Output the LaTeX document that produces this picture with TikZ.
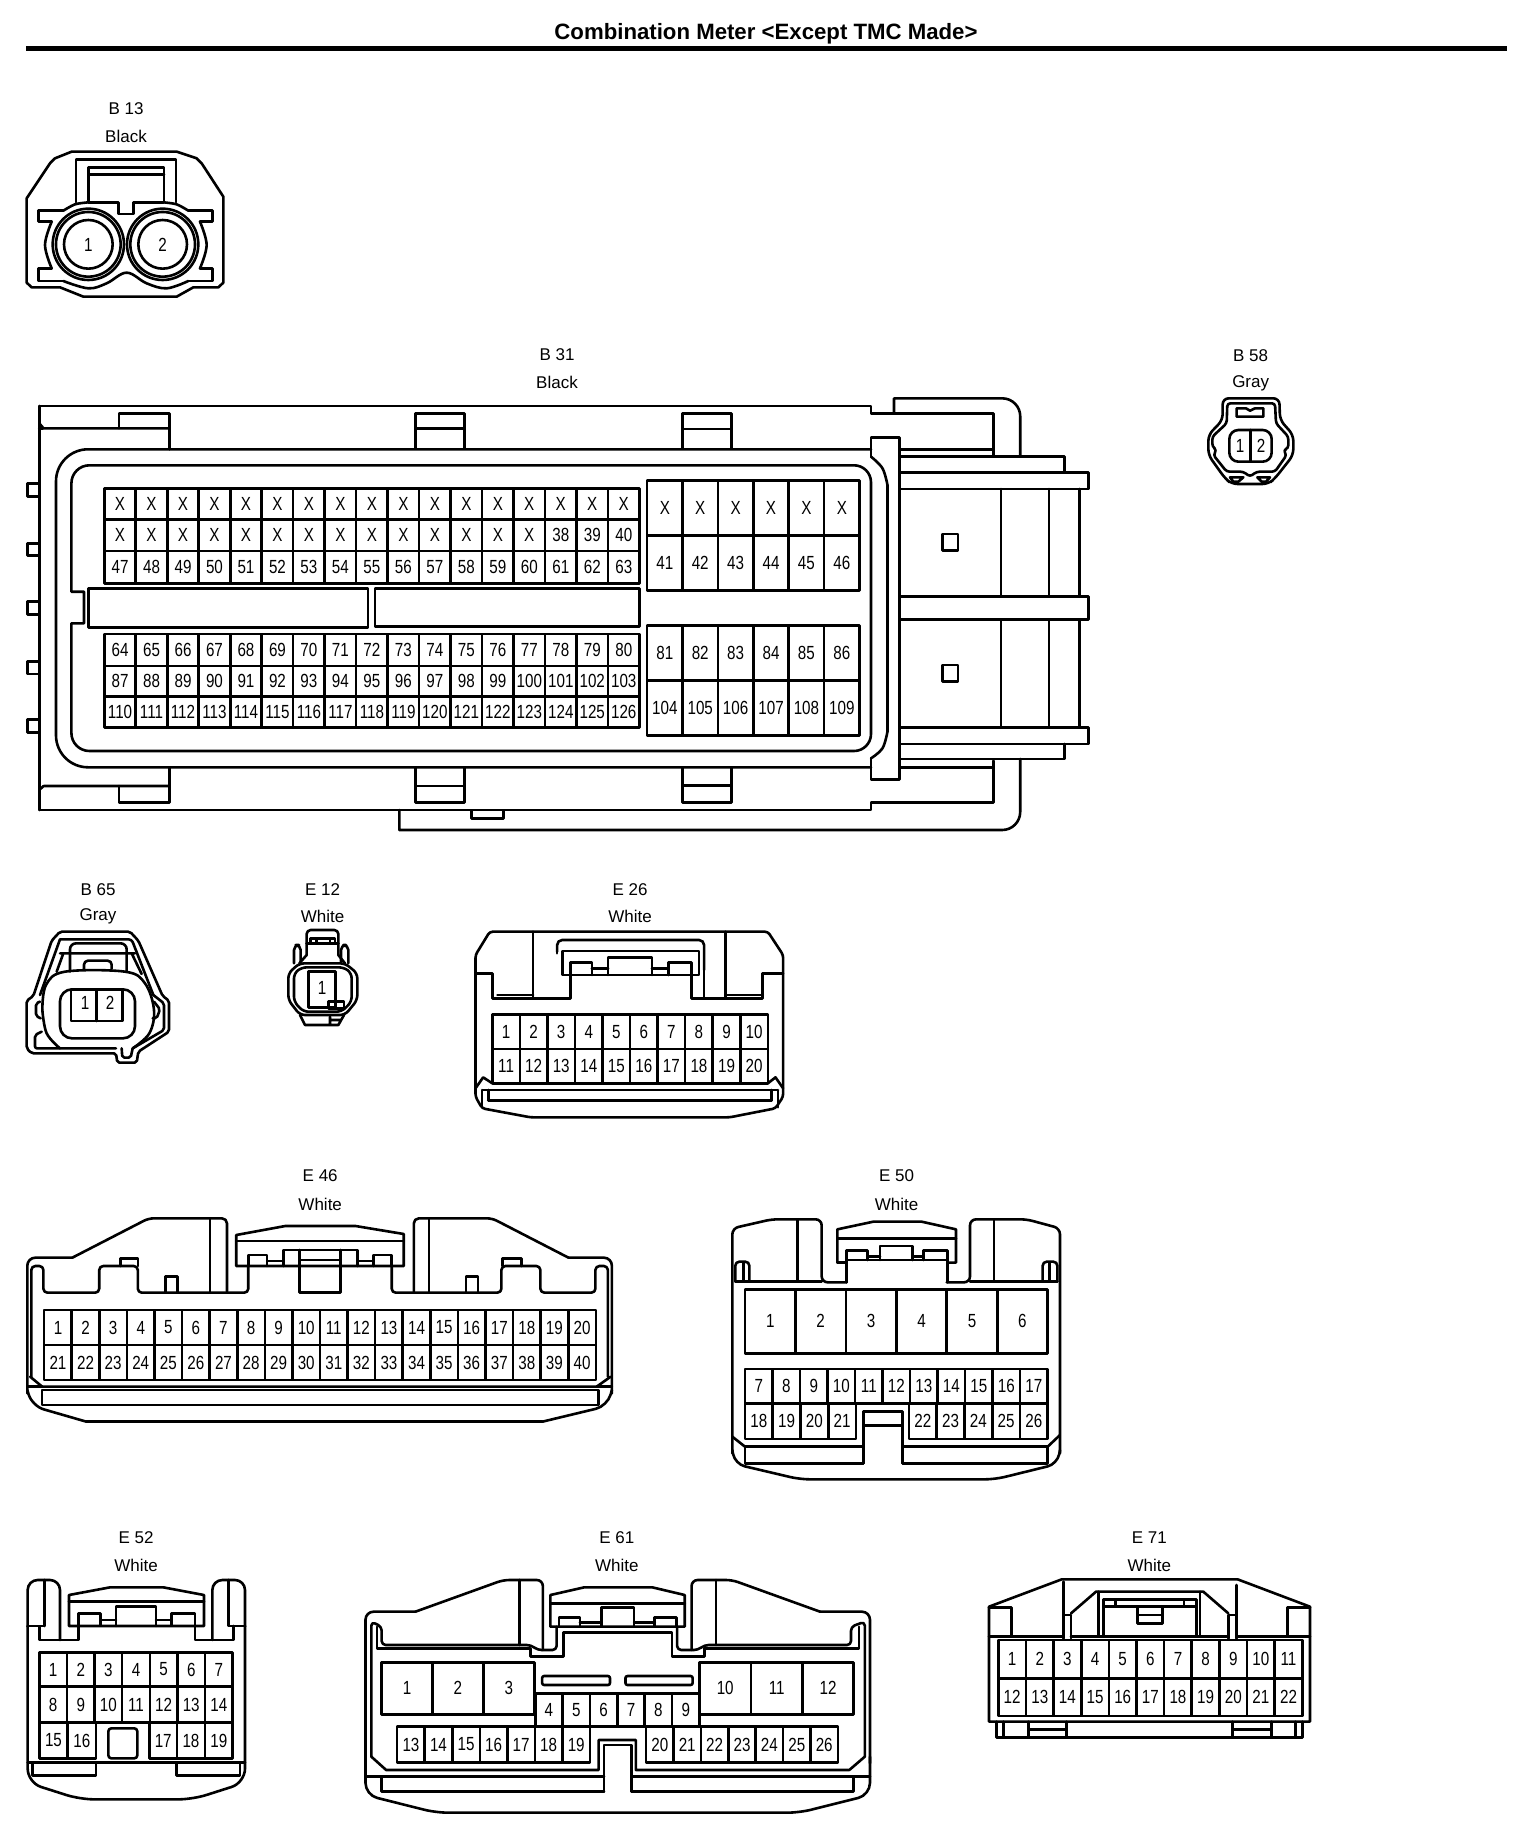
\documentclass[tikz,border=0pt]{standalone}
\usepackage{fontspec}
\setmainfont{Liberation Sans}
\newfontfamily\pinfont[FakeStretch=0.8]{Liberation Sans}
\newcounter{pinno}
\tikzset{
  ln/.style={line width=2.6pt,line join=round,line cap=round},
  hdr/.style={inner sep=0pt,font=\fontsize{17}{19}\selectfont},
  pintext/.style={inner sep=0pt,font=\pinfont\fontsize{19}{21}\selectfont},
  zm/.style n args={3}{shift={(#1,#2)},x=#3,y=-0.33333pt}
}
\newcommand\pinrow[6]{%
  \foreach \pintxt [count=\ii from 0] in {#6} {
    \pgfmathsetmacro\xa{#1+(\ii/#5)*(#2-(#1))}
    \pgfmathsetmacro\xb{#1+((\ii+1)/#5)*(#2-(#1))}
    \draw[ln] (\xa,#3) rectangle (\xb,#4);
    \stepcounter{pinno}
    \node[pintext] (p\thepinno) at ({(\xa+\xb)/2},{(#3+#4)/2}) {\pintxt};
  }}
\newcommand\onepin[3]{\stepcounter{pinno}\node[pintext] (p\thepinno) at (#1,#2) {#3};}
\begin{document}
\begin{tikzpicture}[x=1pt,y=-1pt]
\useasboundingbox (0,0) rectangle (1536,1844);
\node[inner sep=0pt,font=\bfseries\fontsize{22.2}{24}\selectfont] (title) at (766,33.5) {Combination Meter <Except TMC Made>};
\draw[line width=5pt] (26,48.5) -- (1507,48.5);

% ---------- B 13
\begin{scope}[zm={0}{0}{0.33333pt}]
\node[hdr] (b13a) at (378,325) {B 13};
\node[hdr] (b13b) at (378,408) {Black};
\draw[ln] (80,595) -- (150,490) -- (165,475) -- (215,455) -- (530,455) -- (590,475) -- (605,490) -- (670,590) -- (670,848) -- (655,862) -- (580,862) -- (530,890) -- (250,890) -- (180,862) -- (95,862) -- (80,848) -- cycle;
\draw[ln] (228,607) -- (228,478) -- (528,478) -- (528,607);
\draw[ln] (265,607) -- (265,502) -- (492,502) -- (492,607) (265,524) -- (492,524);
\draw[ln] plot[smooth,tension=.5] coordinates {(190,632) (225,613) (265,607)};
\draw[ln] plot[smooth,tension=.5] coordinates {(490,607) (530,613) (565,632)};
\draw[ln] (115,632) -- (190,632) (265,607) -- (355,607) -- (355,642) -- (400,642) -- (400,607) -- (490,607) (565,632) -- (637,632) -- (637,665) -- (600,665);
\draw[ln] plot[smooth,tension=.6] coordinates {(600,665) (620,735) (600,805)};
\draw[ln] (600,805) -- (637,805) -- (637,843) -- (565,843);
\draw[ln] plot[smooth,tension=.6] coordinates {(565,843) (500,865) (440,850) (380,818) (320,850) (265,865) (190,843)};
\draw[ln] (190,843) -- (115,843) -- (115,805) -- (155,805);
\draw[ln] plot[smooth,tension=.6] coordinates {(155,805) (135,735) (155,665)};
\draw[ln] (155,665) -- (115,665) -- (115,632);
\foreach \cx in {265,488} {
  \draw[ln] (\cx,733) circle [radius=73];
  \draw[ln] (\cx,733) circle [radius=97];
  \draw[ln] (\cx,733) circle [radius=107];
}
\onepin{265}{735}{1}
\onepin{488}{735}{2}
\end{scope}

% ---------- B 31, common outlines
\node[hdr] (b31a) at (557,355) {B 31};
\node[hdr] (b31b) at (557,382) {Black};
\draw[ln] (39.3,406) -- (871,406) -- (871,413.3) -- (993.5,413.3) -- (993.5,455);
\draw[ln] (39.3,810) -- (871,810) -- (871,802.3) -- (993.5,802.3) -- (993.5,760.7);
\draw[ln] (39.3,406) -- (39.3,810);
\draw[ln,rounded corners=32pt] (871,449.3) -- (56,449.3) -- (56,767.3) -- (871,767.3);
\draw[ln] (71.4,591.7) [rounded corners=18pt] -- (71.4,465.3) [rounded corners=17pt] -- (871,465.3) -- (871,751) [rounded corners=18pt] -- (71.4,751) [sharp corners] -- (71.4,623.3) -- (84,623.3) -- (84,591.7) -- cycle;
\draw[ln] (399.3,810) -- (399.3,830) [rounded corners=18pt] -- (1020.2,830) [sharp corners] -- (1020.2,759);
\draw[ln] (375,588.3) rectangle (639.5,626.7);
\pinrow{104.3}{639.5}{488.3}{519.3}{17}{X,X,X,X,X,X,X,X,X,X,X,X,X,X,X,X,X}
\pinrow{104.3}{639.5}{519.3}{551}{17}{X,X,X,X,X,X,X,X,X,X,X,X,X,X,38,39,40}
\pinrow{104.3}{639.5}{551}{583.3}{17}{47,...,63}
\pinrow{104.3}{639.5}{634}{666}{17}{64,...,80}
\pinrow{104.3}{639.5}{666}{696.7}{17}{87,...,103}
\pinrow{104.3}{639.5}{696.7}{727.3}{17}{110,...,126}

\begin{scope}[zm={0}{380}{0.35714pt}]
\draw[ln] (110,130) -- (122,145) -- (475,145);
\draw[ln] (110,145) -- (120,145);
\draw[ln] (333,145) -- (333,100) -- (475,100) -- (475,208);
\draw[ln] (1163,205) -- (1163,100) -- (1300,100) -- (1300,205) (1163,145) -- (1300,145);
\draw[ln] (122,1218) -- (475,1218) (110,1230) -- (122,1218);
\draw[ln] (475,1165) -- (475,1267) -- (333,1267) -- (333,1218);
\draw[ln] (1163,1165) -- (1163,1267) -- (1300,1267) -- (1300,1165) (1163,1218) -- (1300,1218);
\draw[ln] (1320,1292) -- (1320,1315) -- (1410,1315) -- (1410,1292);
\foreach \ya/\yb in {310/350,490/527,665/703,845/882,1018/1058}
  \draw[ln] (110,\ya) -- (77,\ya) -- (77,\yb) -- (110,\yb);
\draw[ln] (247,625) rectangle (1030,743);
\end{scope}

\begin{scope}[zm={540}{340}{0.38266pt}]
\draw[ln] (372,325) -- (372,220) -- (500,220) -- (500,325) (372,267) -- (500,267);
\draw[ln] (372,1285) -- (372,1387) -- (500,1387) -- (500,1285) (372,1337) -- (500,1337);
\draw[ln] (925,220) -- (925,175) [rounded corners=18pt] -- (1255,175) [sharp corners] -- (1255,350);
\draw[ln] (865,350) -- (865,293) -- (940,293) -- (940,1318) -- (865,1318) -- (865,1255);
\draw[ln] plot[smooth,tension=.6] coordinates {(865,350) (895,385) (908,435)};
\draw[ln] plot[smooth,tension=.6] coordinates {(908,1175) (895,1225) (865,1255)};
\draw[ln] (908,435) -- (908,1175);
\draw[ln] (940,328) -- (1185,328) (940,1282) -- (1185,1282);
\draw[ln] (940,350) -- (1370,350) -- (1370,397) -- (1433,397) -- (1433,447) -- (940,447) (940,397) -- (1370,397);
\draw[ln] (940,770) -- (1433,770) -- (1433,838) -- (940,838);
\draw[ln] (940,1163) -- (1433,1163) -- (1433,1212) -- (940,1212) (1370,1212) -- (1370,1257) -- (940,1257);
\foreach \vx in {1205,1330,1410} \draw[ln] (\vx,447) -- (\vx,770) (\vx,838) -- (\vx,1163);
\draw[ln] (1052,582) rectangle (1092,632);
\draw[ln] (1052,975) rectangle (1092,1025);
\pinrow{280}{835}{422}{587}{6}{X,X,X,X,X,X}
\pinrow{280}{835}{587}{752}{6}{41,...,46}
\pinrow{280}{835}{857}{1022}{6}{81,...,86}
\pinrow{280}{835}{1022}{1187}{6}{104,...,109}
\end{scope}

% ---------- B 58
\begin{scope}[zm={1180}{340}{0.33333pt}]
\node[hdr] (b58a) at (212,47) {B 58};
\node[hdr] (b58b) at (212,130) {Gray};
\draw[ln,rounded corners=6pt] (128,240) -- (128,175) -- (298,175) -- (300,240) -- (340,285) -- (340,345) -- (285,415) -- (265,432) -- (155,432) -- (135,415) -- (85,345) -- (85,285) -- cycle;
\draw[ln,rounded corners=3pt] (140,250) -- (142,190) -- (285,190) -- (288,250) -- (325,290) -- (325,325) -- (310,330) -- (320,345) -- (285,395) -- (230,395) -- (210,410) -- (190,395) -- (140,395) -- (100,345) -- (110,330) -- (97,320) -- (97,290) -- cycle;
\draw[ln] (170,205) -- (198,205) -- (210,212) -- (225,205) -- (250,205) -- (250,230) -- (170,230) -- cycle;
\draw[ln,rounded corners=9pt] (148,270) rectangle (275,365);
\draw[ln] (212,270) -- (212,365);
\draw[ln] (150,412) -- (190,412) -- (175,425) -- (160,425) -- cycle;
\draw[ln] (232,412) -- (270,412) -- (258,425) -- (245,425) -- cycle;
\onepin{180}{317}{1}
\onepin{243}{317}{2}
\end{scope}

% ---------- B 65
\begin{scope}[zm={10}{920}{0.33333pt}]
\draw[ln,rounded corners=2pt] (125,62) -- (150,35) -- (360,35) -- (385,62) -- (458,228) -- (477,242) -- (477,335) -- (385,395) -- (380,428) -- (322,428) -- (318,400) -- (65,400) -- (50,385) -- (50,242) -- (70,228) -- cycle;
\draw[ln,rounded corners=3pt] (150,58) -- (365,58) -- (430,225);
\draw[ln,rounded corners=3pt] (150,58) -- (90,225);
\draw[ln,rounded corners=2pt] (90,245) -- (78,250) -- (78,288) -- (92,295);
\draw[ln,rounded corners=2pt] (432,245) -- (450,268) -- (440,295) -- (428,295);
\draw[ln,rounded corners=2pt] (95,335) -- (75,345) -- (75,385) -- (318,385);
\draw[ln,rounded corners=2pt] (335,385) -- (337,413) -- (362,413) -- (368,385);
\draw[ln,rounded corners=2pt] (368,385) -- (462,330) -- (462,250) -- (430,225);
\draw[ln] plot[smooth,tension=.6] coordinates {(97,270) (108,195) (165,155) (345,155) (405,190) (432,270) (418,340) (368,385)};
\draw[ln] plot[smooth,tension=.6] coordinates {(97,270) (110,340) (150,385)};
\draw[ln,rounded corners=6pt] (180,155) -- (180,70) -- (350,70) -- (350,155);
\draw[ln] (150,100) -- (375,100) (160,100) -- (140,155) (365,100) -- (395,162);
\draw[ln,rounded corners=4pt] (222,147) -- (222,122) -- (305,122) -- (305,147);
\draw[ln,rounded corners=12pt] (150,208) -- (375,208) -- (375,355) -- (150,355) -- cycle;
\draw[ln] (183,208) rectangle (338,303) (260,208) -- (260,303);
\onepin{225}{250}{1}
\onepin{300}{250}{2}
\end{scope}

% ---------- E 12
\begin{scope}[zm={270}{920}{0.33333pt}]
\draw[ln,rounded corners=4pt] (110,70) -- (110,30) -- (205,30) -- (205,70);
\draw[ln] (110,70) -- (205,70) (122,70) -- (122,55) -- (195,55) -- (195,70) (140,55) -- (140,70) (180,55) -- (180,70);
\draw[ln] (110,70) -- (110,105) -- (88,130) (205,70) -- (205,105) -- (225,130);
\draw[ln,rounded corners=5pt] (72,130) -- (72,75) -- (92,75) -- (92,125);
\draw[ln,rounded corners=5pt] (213,125) -- (213,75) -- (235,75) -- (235,130);
\draw[ln,rounded corners=5pt] (88,130) -- (55,160) -- (55,240) -- (90,285) -- (225,285) -- (262,240) -- (262,160) -- (225,130) -- cycle;
\draw[ln,rounded corners=5pt] (95,142) -- (72,160) -- (72,245) -- (100,275) -- (215,275) -- (245,245) -- (245,160) -- (222,142) -- cycle;
\draw[ln] (115,155) rectangle (197,262);
\draw[ln] (175,245) rectangle (222,265);
\draw[ln] (90,285) -- (105,315) -- (205,315) -- (222,285) (180,290) -- (180,315) (180,300) -- (212,300);
\onepin{156}{205}{1}
\end{scope}

\node[hdr] (b65a) at (98,889.5) {B 65};
\node[hdr] (b65b) at (98,916.5) {Gray};
\node[hdr] (e12a) at (322.5,889.5) {E 12};
\node[hdr] (e12b) at (322.5,916.5) {White};

% ---------- E 26
\begin{scope}[zm={0}{870}{0.5102pt}]
\node[hdr] (e26a) at (1235,58) {E 26};
\node[hdr] (e26b) at (1235,140) {White};
\draw[ln,rounded corners=3pt] (960,185) -- (1505,185) -- (1535,255) -- (1535,680) -- (1520,715) -- (1430,742) -- (1040,742) -- (945,715) -- (932,680) -- (932,255) -- cycle;
\draw[ln] (932,310) -- (965,310) -- (965,385) -- (1118,385) -- (1118,315) (1355,315) -- (1355,385) -- (1495,385) -- (1495,310) -- (1535,310);
\draw[ln] (975,375) -- (1045,375) (1425,375) -- (1495,375);
\draw[ln] (1045,185) -- (1045,385) (1422,185) -- (1422,385);
\draw[ln,rounded corners=5pt] (1092,245) -- (1092,210) -- (1380,210) -- (1380,300);
\draw[ln] (1380,300) -- (1380,385) (1092,245) -- (1092,250);
\draw[ln] (1103,243) rectangle (1370,315);
\draw[ln] (1118,315) -- (1118,278) -- (1160,278) -- (1160,315);
\draw[ln] (1192,315) -- (1192,262) -- (1278,262) -- (1278,315);
\draw[ln] (1310,315) -- (1310,278) -- (1355,278) -- (1355,315);
\draw[ln] (1160,295) -- (1192,295) (1278,295) -- (1310,295);
\pinrow{965}{1505}{433}{537}{10}{1,...,10}
\pinrow{965}{1505}{537}{640}{10}{11,...,20}
\draw[ln] (932,655) -- (947,622) -- (965,640) (1535,655) -- (1520,622) -- (1505,640);
\draw[ln] (945,660) -- (1525,660) (957,692) -- (1512,692) (945,660) -- (945,712) (957,660) -- (957,692) (1512,660) -- (1512,692) (1525,660) -- (1525,712);
\end{scope}

% ---------- E 46
\begin{scope}[zm={0}{1160}{0.40177pt}]
\node[hdr] (e46a) at (797,47) {E 46};
\node[hdr] (e46b) at (797,133) {White};
\draw[ln,rounded corners=8pt] (68,700) -- (68,293) -- (180,293);
\draw[ln,rounded corners=5pt] (180,293) -- (370,175) -- (565,175) -- (565,395);
\draw[ln,rounded corners=5pt] (1030,395) -- (1030,175) -- (1225,175) -- (1415,293);
\draw[ln,rounded corners=8pt] (1415,293) -- (1523,293) -- (1523,700);
\draw[ln,rounded corners=12pt] (68,690) -- (80,738) -- (215,785);
\draw[ln] (215,785) -- (1350,785);
\draw[ln,rounded corners=12pt] (1350,785) -- (1512,738) -- (1523,690);
\draw[ln,rounded corners=4pt] (78,650) -- (78,318) -- (108,318) -- (108,398) -- (247,398) -- (247,318) -- (343,318) -- (343,398) -- (618,398) -- (618,318);
\draw[ln,rounded corners=4pt] (975,318) -- (975,398) -- (1248,398) -- (1248,318) -- (1345,318) -- (1345,398) -- (1482,398) -- (1482,318) -- (1513,318) -- (1513,650);
\draw[ln] (300,318) -- (300,295) -- (343,295) -- (343,318) (1250,318) -- (1250,295) -- (1298,295) -- (1298,318);
\draw[ln] (412,398) -- (412,350) -- (442,350) -- (442,398) (1160,398) -- (1160,350) -- (1190,350) -- (1190,398);
\draw[ln] (523,175) -- (523,398) (1068,175) -- (1068,398);
\draw[ln] (588,318) -- (588,225) -- (710,198) -- (885,198) -- (1005,222) -- (1005,318) -- cycle;
\draw[ln] (588,243) -- (1005,243);
\draw[ln] (618,318) -- (618,285) -- (665,285) -- (665,318);
\draw[ln] (705,318) -- (705,270) -- (890,270) -- (890,318);
\draw[ln] (930,318) -- (930,285) -- (975,285) -- (975,318);
\draw[ln] (665,303) -- (705,303) (890,303) -- (930,303);
\draw[ln] (745,270) -- (745,398) -- (848,398) -- (848,270) (745,300) -- (848,300);
\pinrow{110}{1483}{450}{555}{20}{1,...,20}
\pinrow{110}{1483}{555}{660}{20}{21,...,40}
\draw[ln] (75,650) -- (105,680) -- (1485,680) -- (1520,650);
\draw[ln] (68,680) -- (105,680) (1485,680) -- (1523,680);
\draw[ln] (105,690) -- (1490,690) -- (1490,735) -- (105,735) -- cycle;
\end{scope}

% ---------- E 50
\begin{scope}[zm={720}{1160}{0.33333pt}]
\node[hdr] (e50a) at (530,47) {E 50};
\node[hdr] (e50b) at (530,133) {White};
\draw[ln,rounded corners=6pt] (37,880) -- (37,205) -- (155,178) -- (305,178) -- (305,367) -- (380,367);
\draw[ln,rounded corners=6pt] (680,367) -- (750,367) -- (750,178) -- (920,178) -- (1020,205) -- (1020,880);
\draw[ln,rounded corners=10pt] (37,870) -- (45,912) -- (240,958) -- (825,958) -- (1012,912) -- (1020,870);
\draw[ln,rounded corners=4pt] (46,365) -- (46,305) -- (88,305) -- (88,365);
\draw[ln,rounded corners=4pt] (968,365) -- (968,305) -- (1012,305) -- (1012,365);
\draw[ln] (46,365) -- (305,365) (750,365) -- (1012,365);
\draw[ln] (70,310) -- (70,365) (988,310) -- (988,365);
\draw[ln] (232,180) -- (232,365) (822,180) -- (822,365);
\draw[ln] (352,308) -- (352,208) -- (460,185) -- (605,185) -- (708,208) -- (708,308) -- (683,308);
\draw[ln] (352,308) -- (380,308) (352,235) -- (708,235);
\draw[ln] (380,367) -- (380,272) -- (443,272) -- (443,300);
\draw[ln] (480,300) -- (480,258) -- (578,258) -- (578,300);
\draw[ln] (610,300) -- (610,272) -- (683,272) -- (683,367);
\draw[ln] (380,300) -- (683,300) (443,290) -- (480,290) (578,290) -- (610,290);
\pinrow{75}{983}{388}{580}{6}{1,...,6}
\pinrow{75}{983}{627}{730}{11}{7,...,17}
\pinrow{75}{408}{730}{837}{4}{18,...,21}
\pinrow{567}{983}{730}{837}{5}{22,...,26}
\draw[ln] (430,910) -- (430,755) -- (548,755) -- (548,910) (430,797) -- (548,797);
\draw[ln] (75,860) -- (430,860) (548,860) -- (983,860);
\draw[ln] (75,860) -- (75,910) -- (430,910) (548,910) -- (983,910) -- (983,860);
\draw[ln] (37,830) -- (75,860) (1020,825) -- (983,860);
\end{scope}

% ---------- E 52
\begin{scope}[zm={0}{1530}{0.33333pt}]
\node[hdr] (e52a) at (408,22) {E 52};
\node[hdr] (e52b) at (408,105) {White};
\draw[ln,rounded corners=10pt] (83,290) -- (83,150) -- (180,150) -- (180,330);
\draw[ln,rounded corners=10pt] (637,330) -- (637,150) -- (735,150) -- (735,290);
\draw[ln] (133,150) -- (133,288) (83,288) -- (133,288) (685,150) -- (685,288) -- (735,288);
\draw[ln] (133,288) -- (118,288) -- (118,330) -- (235,330) -- (235,250) -- (302,250) -- (302,285);
\draw[ln] (700,288) -- (700,330) -- (585,330) -- (585,250) -- (515,250) -- (515,285);
\draw[ln,rounded corners=14pt] (83,288) -- (83,758) -- (240,808) -- (578,808) -- (735,758) -- (735,288);
\draw[ln] (207,288) -- (207,195) -- (330,172) -- (490,172) -- (612,195) -- (612,288) -- cycle;
\draw[ln] (207,215) -- (612,215);
\draw[ln] (348,288) -- (348,230) -- (468,230) -- (468,288);
\draw[ln] (302,270) -- (348,270) (468,270) -- (515,270);
\pinrow{118}{698}{367}{470}{7}{1,...,7}
\pinrow{118}{698}{470}{578}{7}{8,...,14}
\pinrow{118}{288}{578}{685}{2}{15,16}
\pinrow{448}{698}{578}{685}{3}{17,18,19}
\draw[ln,rounded corners=3pt] (325,595) rectangle (412,685);
\draw[ln] (83,697) -- (735,697);
\draw[ln] (97,697) -- (97,737) -- (288,737) -- (288,697);
\draw[ln] (530,697) -- (530,737) -- (720,737) -- (720,697);
\end{scope}

% ---------- E 61
\begin{scope}[zm={350}{1530}{0.34435pt}]
\node[hdr] (e61a) at (775,22) {E 61};
\node[hdr] (e61b) at (775,105) {White};
\draw[ln,rounded corners=8pt] (45,700) -- (45,245) -- (190,245);
\draw[ln,rounded corners=6pt] (190,245) -- (445,150) -- (560,150) -- (560,360);
\draw[ln,rounded corners=6pt] (992,360) -- (992,150) -- (1110,150) -- (1365,245);
\draw[ln,rounded corners=8pt] (1365,245) -- (1510,245) -- (1510,700);
\draw[ln,rounded corners=12pt] (45,680) -- (45,795) -- (250,848) -- (1305,848) -- (1510,795) -- (1510,680);
\draw[ln,rounded corners=4pt] (62,680) -- (62,275) -- (92,290) -- (92,345) -- (525,345) -- (545,360) -- (600,360) -- (600,290);
\draw[ln] (78,290) -- (78,355) -- (525,355) -- (525,380) -- (620,380) -- (620,308) -- (935,308) -- (935,380) -- (1030,380) -- (1030,355) -- (1478,355) -- (1478,290);
\draw[ln,rounded corners=4pt] (950,290) -- (950,360) -- (1010,360) -- (1030,345) -- (1455,345) -- (1455,290) -- (1495,275) -- (1495,680);
\draw[ln] (492,150) -- (492,345) (1063,150) -- (1063,345);
\draw[ln] (582,290) -- (582,195) -- (680,172) -- (878,172) -- (972,195) -- (972,290) -- cycle;
\draw[ln] (582,220) -- (972,220);
\draw[ln] (607,290) -- (607,262) -- (668,262) -- (668,290);
\draw[ln] (730,290) -- (730,232) -- (825,232) -- (825,290);
\draw[ln] (885,290) -- (885,262) -- (948,262) -- (948,290);
\draw[ln] (668,278) -- (730,278) (825,278) -- (885,278);
\pinrow{92}{535}{397}{553}{3}{1,2,3}
\pinrow{1015}{1463}{397}{553}{3}{10,11,12}
\pinrow{538}{1015}{490}{590}{6}{4,...,9}
\pinrow{137}{697}{590}{697}{7}{13,...,19}
\pinrow{860}{1417}{590}{697}{7}{20,...,26}
\draw[ln,rounded corners=2pt] (558,438) rectangle (755,465);
\draw[ln,rounded corners=2pt] (800,438) rectangle (995,465);
\draw[ln] (62,680) -- (105,720) -- (722,720) -- (722,630) -- (830,630) -- (830,720) -- (1450,720) -- (1495,680);
\draw[ln] (738,785) -- (738,645) -- (818,645) -- (818,785);
\draw[ln] (45,740) -- (738,740) (818,740) -- (1510,740);
\draw[ln] (92,740) -- (92,785) -- (738,785) (818,785) -- (1463,785) -- (1463,740);
\end{scope}

% ---------- E 71
\begin{scope}[zm={970}{1530}{0.33333pt}]
\node[hdr] (e71a) at (538,22) {E 71};
\node[hdr] (e71b) at (538,105) {White};
\draw[ln] (57,230) -- (275,148) -- (803,148) -- (1020,230) -- (1020,575) -- (57,575) -- cycle;
\draw[ln] (57,232) -- (125,232) -- (125,320) (1020,232) -- (952,232) -- (952,320);
\draw[ln] (57,320) -- (280,320) (303,320) -- (775,320) (800,320) -- (1020,320);
\draw[ln] (280,155) -- (280,325) (303,255) -- (303,325) (280,255) -- (303,255);
\draw[ln] (800,165) -- (800,325) (775,255) -- (775,325) (775,255) -- (800,255);
\draw[ln] (303,250) -- (378,185) -- (700,185) -- (775,250);
\draw[ln] (385,185) -- (385,320) (690,185) -- (690,320);
\draw[ln] (400,320) -- (400,208) -- (680,208) -- (680,320) (400,230) -- (680,230);
\draw[ln] (437,208) -- (437,230) (642,208) -- (642,230);
\draw[ln] (503,230) -- (503,280) -- (577,280) -- (577,230) (503,255) -- (577,255);
\pinrow{85}{997}{330}{445}{11}{1,...,11}
\pinrow{85}{997}{445}{558}{11}{12,...,22}
\draw[ln] (80,575) -- (80,622) -- (997,622) -- (997,575);
\draw[ln] (100,575) -- (100,622) (977,575) -- (977,622);
\draw[ln] (175,575) -- (175,622) (290,575) -- (290,622) (175,598) -- (290,598);
\draw[ln] (787,575) -- (787,622) (905,575) -- (905,622) (787,598) -- (905,598);
\end{scope}
\end{tikzpicture}
\end{document}
